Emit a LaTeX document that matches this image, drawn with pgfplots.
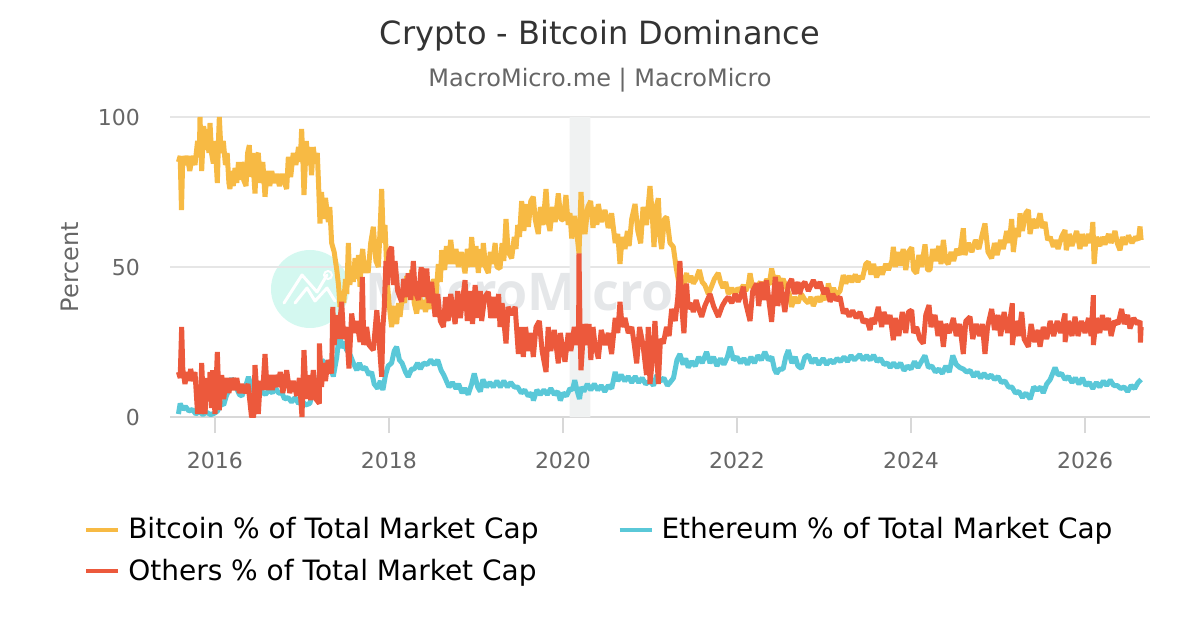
\documentclass[border=0pt]{standalone}
\usepackage{fontspec}
\usepackage{pgfplots}
\pgfplotsset{compat=1.18}
\setmainfont{DejaVu Sans}
\newfontfamily\wmfont{Open Sans}
\definecolor{btc}{HTML}{F7BA44}
\definecolor{eth}{HTML}{5AC8D8}
\definecolor{oth}{HTML}{EC593C}
\definecolor{gridc}{HTML}{E6E6E6}
\definecolor{axisc}{HTML}{D8D8D8}
\definecolor{labc}{HTML}{666666}
\begin{document}
\begin{tikzpicture}[x=0.5pt,y=-0.5pt]
\path (0,0) rectangle (1200,630);
% watermark
\fill[color={rgb,255:red,212;green,248;blue,240}] (310,289) circle (39);
\draw[white,line width=1.5pt,line cap=round,line join=round] (284,303)--(302,275)--(317,292)--(327,275);
\draw[white,line width=1.5pt,line cap=round,line join=round] (295,303)--(307,288)--(315,301)--(327,288)--(335,301);
\draw[white,line width=1pt] (328,275) circle (4);
\node[anchor=center,color={rgb,255:red,229;green,231;blue,233},font=\wmfont\bfseries\fontsize{26}{26}\selectfont] at (520,291) {MacroMicro};
% titles
\node[color={rgb,255:red,51;green,51;blue,51},font=\fontsize{16}{16}\selectfont] at (600,35.5) {Crypto - Bitcoin Dominance};
\node[color=labc,font=\fontsize{12}{12}\selectfont] at (600,80) {MacroMicro.me | MacroMicro};
\node[color=labc,rotate=90,font=\fontsize{12}{12}\selectfont] at (70,267) {Percent};
\begin{axis}[
  at={(85pt,-208.5pt)}, anchor=south west,
  scale only axis, width=490pt, height=150pt,
  xmin=2015.483, xmax=2026.747, ymin=0, ymax=100,
  xtick={2016,2018,2020,2022,2024,2026},
  ytick={0,50,100},
  xticklabel style={/pgf/number format/1000 sep={}},
  /pgf/number format/assume math mode=true,
  tick label style={color=labc,font=\fontsize{11}{11}\selectfont},
  ymajorgrids, grid style={color=gridc,line width=1pt},
  axis x line=bottom, axis y line=left,
  axis line style={color=axisc,line width=1pt,-},
  y axis line style={draw=none},
  xtick style={color=axisc,line width=1pt},
  ytick style={draw=none},
  tick align=outside, major tick length=8pt,
  xticklabel shift=6pt,
  yticklabel style={xshift=-3.6pt},
  clip=true,
  legend columns=2,
  legend cell align=left,
  legend style={draw=none,fill=none,at={(-0.094,-0.307)},anchor=north west,
    font=\fontsize{14}{14}\selectfont,
    /tikz/every even column/.append style={column sep=37.5pt},
    /tikz/every odd column/.append style={column sep=2pt},
    row sep=4.5pt},
  legend image code/.code={\draw[#1,line width=2pt] (0cm,0cm) -- (16pt,0cm);},
  every axis plot/.append style={line width=2.5pt,line join=bevel},
]
\addplot[forget plot,draw=none,fill={rgb,255:red,240;green,242;blue,242}] coordinates {(2020.075,0)(2020.075,100)(2020.316,100)(2020.316,0)} \closedcycle;

\addplot[btc] coordinates {
(2015.58,85)(2015.60,87)(2015.615,69)(2015.63,87)(2015.65,84)(2015.68,87)(2015.71,82)(2015.74,87)(2015.77,84)(2015.80,92)(2015.82,87)(2015.828,100)(2015.847,82)(2015.87,97)(2015.89,89)(2015.91,96)(2015.93,88)(2015.943,98)(2015.96,88)(2015.981,84.5)(2016.0,92)(2016.027,78)(2016.04,92)(2016.05,100)
(2016.07,88)(2016.096,92)(2016.12,84)(2016.14,88)(2016.16,78)(2016.172,76)(2016.19,82)(2016.21,77)(2016.23,83)(2016.25,78)(2016.27,85)(2016.29,79)(2016.307,85)(2016.33,79)(2016.357,77)(2016.375,88)(2016.395,90.6)(2016.41,80)(2016.43,88)(2016.46,74.5)(2016.48,87)(2016.498,88)(2016.52,78)(2016.55,85)(2016.575,73.4)(2016.60,82)(2016.63,77)(2016.652,82)(2016.68,78)(2016.71,81)(2016.74,77)(2016.77,81)(2016.80,78)(2016.824,76)(2016.843,86.7)(2016.87,80)(2016.90,88)(2016.93,84)(2016.96,90)(2016.98,85)(2016.996,96)
(2017.01,86)(2017.023,74)(2017.05,92)(2017.073,84)(2017.09,90)(2017.11,80.6)(2017.13,90)(2017.15,85)(2017.176,88)(2017.19,78)(2017.207,64.5)(2017.225,75)(2017.245,66)(2017.27,73)(2017.303,65)(2017.32,70)(2017.341,58)(2017.37,55)(2017.40,49)(2017.42,44)(2017.437,36.7)(2017.46,42)(2017.48,38)(2017.50,46)(2017.515,41)(2017.533,58)(2017.55,44)(2017.571,50)(2017.59,45)(2017.61,53)(2017.629,46)(2017.65,54)(2017.667,43.4)(2017.68,52)(2017.698,56)(2017.72,48)(2017.743,52)(2017.76,48)(2017.79,58)(2017.82,63.4)(2017.85,52)(2017.878,50)(2017.90,64)(2017.916,76)(2017.935,58)(2017.954,64)(2017.98,45)
(2018.0,38)(2018.03,30)(2018.06,37)(2018.088,31)(2018.11,38)(2018.127,33.4)(2018.16,42)(2018.18,38)(2018.203,47)(2018.23,41)(2018.261,49)(2018.29,38)(2018.318,34.5)(2018.35,41)(2018.375,36)(2018.395,39)(2018.42,35)(2018.452,42)(2018.48,36)(2018.51,46)(2018.54,40)(2018.567,51)(2018.59,45)(2018.606,55.6)(2018.64,49)(2018.66,57)(2018.682,51)(2018.71,59)(2018.74,51)(2018.77,56)(2018.797,50)(2018.83,55)(2018.874,47.9)(2018.90,56)(2018.93,50)(2018.95,60)(2018.98,50)
(2019.0,57)(2019.027,48)(2019.05,56)(2019.07,50)(2019.084,58)(2019.11,50)(2019.142,48)(2019.165,55)(2019.19,51)(2019.22,58)(2019.24,50)(2019.276,49.5)(2019.30,58)(2019.32,52)(2019.345,66)(2019.37,55)(2019.41,52.9)(2019.44,60)(2019.46,56)(2019.48,64)(2019.50,60)(2019.525,72)(2019.55,62)(2019.58,71)(2019.602,63.4)(2019.63,72)(2019.659,73.4)(2019.68,66)(2019.716,61)(2019.74,70)(2019.77,64)(2019.805,76)(2019.83,65)(2019.85,62)(2019.88,70)(2019.91,65)(2019.946,74.5)(2019.975,66)
(2020.004,65.6)(2020.034,74)(2020.06,64)(2020.08,68)(2020.1,59.5)(2020.13,67)(2020.157,62)(2020.184,54.5)(2020.207,75)(2020.23,64)(2020.253,61)(2020.285,70)(2020.318,72)(2020.345,63)(2020.368,70)(2020.39,64)(2020.406,71)(2020.44,65)(2020.483,69)(2020.52,63)(2020.559,67.9)(2020.60,58)(2020.63,61)(2020.655,51)(2020.68,60)(2020.713,56)(2020.74,62)(2020.76,57)(2020.79,66)(2020.828,71)(2020.86,62)(2020.893,57.9)(2020.92,70)(2020.96,64)
(2021.0,77)(2021.025,68)(2021.046,56.7)(2021.07,70)(2021.096,72.9)(2021.115,60)(2021.134,56)(2021.165,66)(2021.192,66.7)(2021.23,58)(2021.268,56.7)(2021.30,50)(2021.333,44.5)(2021.36,47)(2021.39,44)(2021.42,48)(2021.44,45)(2021.47,47)(2021.498,44.5)(2021.53,46)(2021.567,49)(2021.60,45)(2021.63,44)(2021.67,41)(2021.70,43)(2021.74,46)(2021.785,48)(2021.81,45)(2021.84,43)(2021.87,45)(2021.9,41)(2021.94,43)(2021.977,40.6)
(2022.01,43)(2022.04,42)(2022.073,44)(2022.10,42)(2022.13,44)(2022.15,47.9)(2022.18,43)(2022.226,43.4)(2022.27,45)(2022.30,42)(2022.34,46)(2022.37,44)(2022.398,49.5)(2022.43,45)(2022.47,47)(2022.494,44.5)(2022.53,46)(2022.57,43)(2022.60,41)(2022.628,36.7)(2022.66,40)(2022.70,38)(2022.74,41)(2022.782,39)(2022.82,38)(2022.85,40)(2022.877,37)(2022.92,40)(2022.96,38.5)(2022.99,41)(2023.02,39)
(2023.05,44.5)(2023.08,41)(2023.11,43)(2023.14,40.5)(2023.184,42)(2023.222,47.3)(2023.25,44.5)(2023.29,47)(2023.32,45)(2023.36,47.5)(2023.39,45)(2023.414,47)(2023.44,46)(2023.48,51)(2023.51,51.7)(2023.54,47.5)(2023.57,51)(2023.605,46.5)(2023.64,50)(2023.67,47.5)(2023.71,51)(2023.74,49)(2023.78,52)(2023.797,56.7)(2023.82,50)(2023.85,55)(2023.873,50.5)(2023.91,56)(2023.94,49)(2023.97,55)
(2024.008,56.5)(2024.03,49)(2024.065,47.9)(2024.09,54)(2024.12,50)(2024.161,57.5)(2024.19,49)(2024.218,49)(2024.25,56)(2024.28,52)(2024.32,57)(2024.345,51)(2024.372,59)(2024.40,52)(2024.429,51)(2024.46,55)(2024.49,52)(2024.525,56)(2024.56,54)(2024.601,62.9)(2024.62,54)(2024.66,58)(2024.70,55)(2024.74,59)(2024.78,56)(2024.82,61)(2024.85,64.5)(2024.885,55)(2024.927,52.9)(2024.96,58)(2024.99,54)
(2025.03,59)(2025.061,56)(2025.10,62)(2025.13,58)(2025.157,66)(2025.176,55)(2025.21,63)(2025.235,60)(2025.253,67.9)(2025.28,62)(2025.32,68)(2025.349,69)(2025.368,61)(2025.40,66)(2025.44,63)(2025.483,67.9)(2025.51,63)(2025.54,65)(2025.57,59)(2025.60,60)(2025.636,56.7)(2025.66,59)(2025.69,56)(2025.73,60)(2025.77,62.3)(2025.785,55.6)(2025.82,61)(2025.85,57)(2025.904,62)(2025.942,56)(2025.97,61)
(2026.0,57)(2026.04,61)(2026.07,58)(2026.09,65)(2026.105,51)(2026.13,60)(2026.17,57)(2026.20,60)(2026.23,57.5)(2026.27,61)(2026.30,58)(2026.345,62)(2026.37,58)(2026.402,55.6)(2026.43,60)(2026.46,57.5)(2026.50,60.5)(2026.54,58)(2026.58,60)(2026.613,59)(2026.632,63.5)(2026.645,59)
};
\addlegendentry{Bitcoin \% of Total Market Cap}

\addplot[eth] coordinates {
(2015.58,1)(2015.60,4.5)(2015.63,2.5)(2015.66,3.5)(2015.70,2)(2015.74,2.5)(2015.78,1)(2015.82,1.8)(2015.86,0.8)(2015.90,1.6)(2015.95,0.8)(2015.99,1.2)(2016.03,2)(2016.07,4.5)(2016.10,4)(2016.13,7)(2016.16,9)(2016.19,13)(2016.22,10.5)(2016.25,9.5)(2016.28,7.5)(2016.31,7)(2016.35,10)(2016.385,13.4)(2016.42,9.5)(2016.46,8)(2016.5,6.7)(2016.54,8.5)(2016.58,7.5)(2016.62,9)(2016.66,8)(2016.69,10)(2016.73,8)(2016.77,8)(2016.80,6)(2016.84,6.5)(2016.88,5)(2016.92,6.5)(2016.96,4.5)(2017.0,5.5)(2017.04,4)(2017.09,4.5)(2017.13,9)(2017.17,8)(2017.2,14)(2017.23,19)(2017.26,18)(2017.30,15)(2017.33,16.5)(2017.36,13.5)(2017.40,20)(2017.43,28.4)(2017.46,23)(2017.49,25)(2017.51,22.5)(2017.55,21)(2017.59,18)(2017.63,15.6)(2017.66,18)(2017.69,16)(2017.73,16.5)(2017.77,14)(2017.80,15)(2017.83,11)(2017.87,9.5)(2017.90,12)(2017.93,9)(2017.96,14)(2017.99,17)(2018.03,18)(2018.06,22)(2018.088,23.4)(2018.12,19)(2018.15,18)(2018.19,15)(2018.22,13.4)(2018.26,16)(2018.29,16)(2018.33,18)(2018.36,16)(2018.40,18)(2018.44,17.5)(2018.48,19)(2018.52,17.5)(2018.56,19)(2018.60,15.5)(2018.63,14)(2018.66,12)(2018.69,10)(2018.73,11.5)(2018.77,9.5)(2018.80,11)(2018.84,8)(2018.87,9.5)(2018.91,7.5)(2018.95,11)(2018.98,14.5)(2019.02,10)(2019.05,8.5)(2019.08,12.5)(2019.12,10)(2019.16,11.5)(2019.20,10)(2019.24,12)(2019.28,10)(2019.32,12)(2019.36,10)(2019.40,11.5)(2019.44,10)(2019.48,10)(2019.52,8)(2019.56,9)(2019.60,7)(2019.64,8)(2019.66,5.5)(2019.70,9)(2019.74,7.5)(2019.78,9)(2019.82,7.5)(2019.86,9.5)(2019.90,7.5)(2019.94,8.5)(2019.97,5.5)(2020.0,8)(2020.04,7)(2020.08,9.5)(2020.11,9)(2020.135,12.3)(2020.16,9)(2020.19,6)(2020.21,10)(2020.24,8.5)(2020.28,11)(2020.32,9)(2020.36,11)(2020.40,9)(2020.44,10.5)(2020.48,8.5)(2020.52,10.5)(2020.56,9.5)(2020.60,15)(2020.63,12)(2020.67,14)(2020.71,12)(2020.75,13.5)(2020.79,11.5)(2020.83,13.5)(2020.87,11.5)(2020.91,13)(2020.95,11)(2021.0,12)(2021.04,10.5)(2021.08,14)(2021.12,12)(2021.16,13)(2021.20,10.5)(2021.23,11.5)(2021.27,13)(2021.31,19)(2021.344,21)(2021.38,17.5)(2021.41,19.5)(2021.44,16.5)(2021.48,18.5)(2021.52,17)(2021.56,20)(2021.60,18)(2021.65,21.7)(2021.69,18)(2021.73,20)(2021.77,17)(2021.81,19.5)(2021.85,17.5)(2021.89,20)(2021.92,23.4)(2021.96,19)(2022.0,20)(2022.04,18)(2022.08,19.5)(2022.12,17.5)(2022.16,20)(2022.20,18)(2022.24,20.5)(2022.28,19)(2022.32,21.7)(2022.36,19)(2022.40,20)(2022.43,16)(2022.455,14.5)(2022.49,16)(2022.53,16)(2022.56,20)(2022.59,22.3)(2022.63,18)(2022.67,20)(2022.70,17)(2022.74,16.2)(2022.78,20)(2022.82,20.6)(2022.86,18)(2022.90,19.5)(2022.94,17.5)(2022.99,19.5)(2023.03,17.5)(2023.07,19)(2023.11,18)(2023.15,19.5)(2023.19,18.5)(2023.23,20)(2023.27,18.5)(2023.31,20.5)(2023.35,19)(2023.41,20.8)(2023.45,19)(2023.49,20.5)(2023.53,19)(2023.57,20.6)(2023.61,18.5)(2023.65,19.5)(2023.69,17.5)(2023.73,18)(2023.76,16.5)(2023.80,18)(2023.84,16.5)(2023.88,18)(2023.92,15.5)(2023.96,17)(2024.0,16)(2024.04,18.5)(2024.08,16.5)(2024.12,18.5)(2024.16,20.5)(2024.20,16.5)(2024.24,17)(2024.28,15)(2024.32,16)(2024.36,14.5)(2024.40,17)(2024.44,15)(2024.48,20.5)(2024.52,17.5)(2024.56,16.5)(2024.60,16)(2024.64,15)(2024.68,15.5)(2024.72,13.5)(2024.76,15)(2024.80,13)(2024.84,14.5)(2024.88,13)(2024.92,14)(2024.96,12.5)(2025.0,13.5)(2025.04,11.5)(2025.08,12)(2025.12,10)(2025.16,10)(2025.20,8)(2025.24,8.5)(2025.28,6.5)(2025.32,8)(2025.37,6)(2025.41,10)(2025.45,9)(2025.49,10)(2025.52,8)(2025.56,11)(2025.60,12.5)(2025.656,16.5)(2025.69,14)(2025.73,14.5)(2025.77,12.5)(2025.81,13.5)(2025.85,11.5)(2025.89,13)(2025.93,11)(2025.97,13)(2026.01,10.5)(2026.05,11.5)(2026.09,9.5)(2026.13,11.5)(2026.17,10)(2026.21,12)(2026.25,10.5)(2026.29,12.3)(2026.33,10.5)(2026.37,10.5)(2026.41,9.5)(2026.45,10)(2026.49,8.5)(2026.53,10.5)(2026.57,9.5)(2026.61,11.5)(2026.645,12.5)
};
\addlegendentry{Ethereum \% of Total Market Cap}

\addplot[oth] coordinates {
(2015.58,15)(2015.60,13)(2015.617,30)(2015.63,16)(2015.655,11)(2015.68,15)(2015.70,12)(2015.72,16)(2015.75,12)(2015.77,15)(2015.80,1)(2015.82,10)(2015.83,1)(2015.847,18)(2015.865,6)(2015.885,1)(2015.91,13)(2015.93,6)(2015.943,15)(2015.96,3)(2015.973,15.6)(2016.0,1)
(2016.027,21.7)(2016.05,2.3)(2016.077,14)(2016.10,6)(2016.13,13)(2016.16,8)(2016.19,13)(2016.22,9)(2016.25,13)(2016.28,8)(2016.31,11)(2016.34,8)(2016.38,11)(2016.42,0)(2016.445,0)(2016.46,17.3)(2016.498,1)(2016.52,12)(2016.55,9)(2016.575,21)(2016.60,9)(2016.63,14)(2016.66,9)(2016.69,14)(2016.72,10)(2016.75,15)(2016.78,8)(2016.824,15.6)(2016.86,8)(2016.90,12)(2016.94,7)(2016.97,13)
(2017.0,0)(2017.023,22.3)(2017.05,6)(2017.073,14)(2017.10,5.6)(2017.13,15.6)(2017.16,6)(2017.2,4.5)(2017.2,24.5)(2017.225,10)(2017.245,18)(2017.27,12)(2017.30,19)(2017.341,14.5)(2017.354,36.7)(2017.37,24)(2017.40,34)(2017.42,26)(2017.456,38.4)(2017.48,26)(2017.51,30)(2017.54,16.2)(2017.571,34.5)(2017.60,28)(2017.63,32)(2017.667,25)(2017.68,30)(2017.694,46.7)(2017.71,24)(2017.743,30)(2017.77,24)(2017.82,22.3)(2017.86,35.6)(2017.89,24)(2017.916,13.4)(2017.93,30)(2017.945,36)(2017.965,52)(2017.98,44)
(2018.0,55)(2018.03,56.7)(2018.05,44)(2018.07,52)(2018.10,42)(2018.145,38.4)(2018.17,46)(2018.20,40)(2018.22,47.9)(2018.25,39)(2018.28,52)(2018.30,42)(2018.338,39)(2018.37,50)(2018.40,40)(2018.434,49.5)(2018.46,38)(2018.49,45)(2018.53,33.4)(2018.56,41)(2018.59,32)(2018.626,30)(2018.65,40)(2018.68,32)(2018.71,41)(2018.76,31)(2018.79,42)(2018.82,33)(2018.874,45.6)(2018.90,32)(2018.93,42)(2018.96,31)(2018.99,44)
(2019.02,33)(2019.05,42)(2019.065,32)(2019.10,40)(2019.142,41.7)(2019.17,33)(2019.20,40)(2019.23,33)(2019.26,41)(2019.276,30)(2019.30,38)(2019.345,24.5)(2019.37,36.7)(2019.41,34)(2019.45,36.7)(2019.487,21)(2019.51,30)(2019.544,20)(2019.57,30)(2019.60,22)(2019.63,28)(2019.659,20)(2019.69,30)(2019.728,32)(2019.76,22)(2019.805,15)(2019.83,30)(2019.86,22)(2019.90,29)(2019.946,17.9)(2019.97,28)
(2020.0,22)(2020.023,18.4)(2020.06,28)(2020.09,22)(2020.13,30)(2020.16,24)(2020.18,31)(2020.184,54.5)(2020.195,31)(2020.207,15.6)(2020.24,31)(2020.27,24)(2020.30,31)(2020.32,19)(2020.345,30)(2020.368,24)(2020.406,19.5)(2020.44,29)(2020.483,24)(2020.52,28)(2020.559,21)(2020.60,33)(2020.63,28)(2020.655,38.4)(2020.68,30)(2020.713,33)(2020.75,28)(2020.79,30)(2020.82,24)(2020.847,17.9)(2020.88,30)(2020.92,24)(2020.96,14)(2020.98,30)
(2021.0,11)(2021.03,20)(2021.057,32)(2021.08,20)(2021.096,11)(2021.12,26)(2021.153,24.5)(2021.19,30)(2021.22,27)(2021.249,36)(2021.29,32)(2021.32,40)(2021.344,52)(2021.37,35)(2021.39,27.9)(2021.42,44.5)(2021.44,36)(2021.47,38)(2021.498,35)(2021.53,39)(2021.56,36)(2021.594,33.4)(2021.63,37)(2021.69,41)(2021.73,37)(2021.785,33.4)(2021.83,37)(2021.87,39)(2021.9,40)(2021.94,38)(2021.98,41)
(2022.015,38.4)(2022.05,41)(2022.073,43.4)(2022.10,38)(2022.15,32)(2022.18,42)(2022.226,44.5)(2022.25,37)(2022.28,45)(2022.31,39)(2022.34,45.6)(2022.37,38)(2022.398,31.7)(2022.42,40)(2022.44,46.7)(2022.47,37)(2022.50,45)(2022.55,35)(2022.59,44)(2022.628,46)(2022.66,41)(2022.70,45)(2022.72,41)(2022.75,44)(2022.78,45)(2022.82,42)(2022.877,45.6)(2022.92,43)(2022.954,45)(2023.0,41)
(2023.03,43)(2023.07,38.4)(2023.10,41)(2023.14,39)(2023.184,40)(2023.222,34.5)(2023.25,36)(2023.29,33.5)(2023.33,35.5)(2023.37,33)(2023.414,35)(2023.45,31.5)(2023.49,32.5)(2023.529,29)(2023.55,33)(2023.58,31)(2023.624,36.7)(2023.663,30)(2023.69,35)(2023.73,31)(2023.759,34)(2023.797,25.6)(2023.82,33)(2023.86,27)(2023.90,35)(2023.94,28)(2023.97,35)
(2024.008,35.6)(2024.03,28)(2024.065,30)(2024.10,26)(2024.141,24.5)(2024.17,34)(2024.207,37.3)(2024.23,30)(2024.276,34)(2024.31,27)(2024.34,32)(2024.372,23.4)(2024.40,31)(2024.44,28)(2024.487,33)(2024.52,27)(2024.56,31)(2024.601,21)(2024.63,32)(2024.678,33.4)(2024.71,26)(2024.75,31)(2024.79,27)(2024.82,31)(2024.85,21)(2024.88,30)(2024.927,36)(2024.96,29)
(2025.0,34)(2025.03,27)(2025.07,35)(2025.11,28)(2025.14,33)(2025.165,37.9)(2025.165,24)(2025.20,32)(2025.24,27)(2025.272,35)(2025.30,26)(2025.349,23.4)(2025.38,31)(2025.42,25)(2025.46,29)(2025.483,23.4)(2025.52,30)(2025.56,26)(2025.60,32)(2025.64,27)(2025.68,32)(2025.72,28)(2025.77,34.5)(2025.77,25)(2025.81,32)(2025.85,27)(2025.885,33.4)(2025.92,27)(2025.96,32)
(2026.0,28)(2026.04,33)(2026.07,27)(2026.096,40.6)(2026.096,24)(2026.13,33)(2026.17,28)(2026.20,34)(2026.23,29)(2026.27,33)(2026.30,27)(2026.34,32)(2026.38,31)(2026.42,36)(2026.45,31)(2026.49,34)(2026.517,29.5)(2026.56,33)(2026.60,31)(2026.632,32)(2026.637,24.8)(2026.645,30)
};
\addlegendentry{Others \% of Total Market Cap}
\end{axis}
\end{tikzpicture}
\end{document}
